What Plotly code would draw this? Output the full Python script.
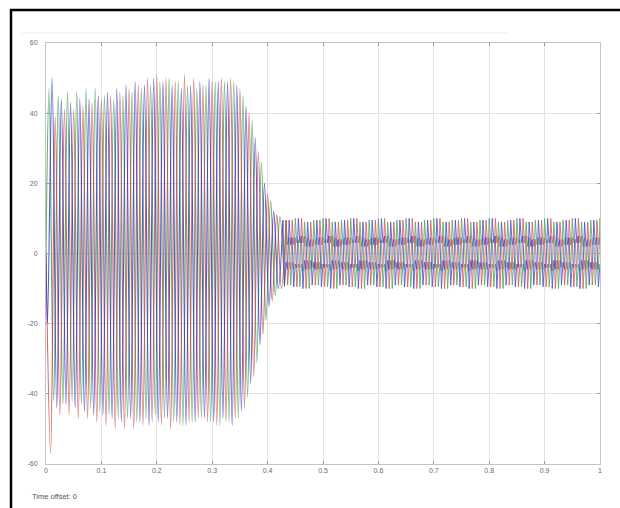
import plotly.graph_objects as go

# ---------------- data ----------------
freq_hz = 60.0                      # supply frequency (same-colour peaks ~0.0167 s apart)
x_ticks = [0, 0.1, 0.2, 0.3, 0.4, 0.5, 0.6, 0.7, 0.8, 0.9, 1]
x_tick_labels = ["0", "0.1", "0.2", "0.3", "0.4", "0.5", "0.6", "0.7", "0.8", "0.9", "1"]
y_ticks = [-60, -40, -20, 0, 20, 40, 60]
y_tick_labels = ["-60", "-40", "-20", "0", "20", "40", "60"]

phase_names = ["green", "red", "blue"]
# time of the first extremum of each phase
first_ext_t = {"green": 0.0055, "red": 0.0083, "blue": 0.0027}
start_value = {"green": 0.0, "red": 0.0, "blue": 0.0}

# successive extrema (alternating, half a period apart) of the starting transient
green_ext = [47, -42, 45, -43, 46, -42, 46, -43, 47, -44, 47, -45, 45, -46, 44, -47,
             45, -47, 46, -48, 47, -47, 48, -46, 49, -47, 50, -48, 49, -49, 48, -48,
             47, -47, 48, -48, 49, -49, 49, -48, 49, -47, 45, -41, 38, -31, 26, -19,
             15, -12, 10.5, -9.5]
red_ext = [-57, 39, -46, 41, -46, 41, -47, 42, -47, 43, -48, 44, -49, 45, -50, 46,
           -50, 47, -50, 48, -49, 50, -48, 51, -49, 50, -50, 49, -49, 51, -48, 50,
           -47, 48, -48, 49, -49, 50, -48, 50, -47, 47, -44, 40, -35, 29, -23, 17,
           -13.5, 11, -10, 9.5]
blue_ext = [-20, 50, -44, 44, -43, 43, -44, 44, -45, 44, -46, 45, -46, 46, -47, 47,
            -48, 48, -47, 49, -48, 48, -49, 50, -48, 49, -47, 48, -48, 47, -49, 48,
            -48, 49, -47, 50, -48, 49, -47, 49, -49, 48, -45, 42, -37, 33, -26, 20,
            -15, 12, -10, 9.5]

# steady state: three cycles of extrema, a sixth of a period apart
# (spikes to about +/-9.5 with turning points between about 2 and 5)
steady_from_peak = [9.5, 2.5, 4.5, -9.0, -2.5, -4.5,
                    10.0, 3.0, 4.0, -9.5, -3.0, -5.0,
                    9.0, 2.0, 4.5, -10.0, -2.0, -4.0]
steady_from_trough = [-9.0, -2.5, -4.5, 9.5, 2.5, 4.5,
                      -9.5, -3.0, -4.0, 10.0, 3.0, 5.0,
                      -10.0, -2.0, -4.5, 9.0, 2.0, 4.0]

line_colors = {"green": "#3f9f4f", "red": "#d24a4a", "blue": "#3c3cc8"}

# ---------------- build traces ----------------
half_period = 0.5 / freq_hz
steady_step = 1.0 / (6.0 * freq_hz)
series_ext = {"green": green_ext, "red": red_ext, "blue": blue_ext}

fig = go.Figure()
for name in phase_names:
    ext = series_ext[name]
    ts = [0.0] + [first_ext_t[name] + i * half_period for i in range(len(ext))]
    vs = [start_value[name]] + list(ext)
    fig.add_trace(go.Scatter(
        x=ts, y=vs, mode="lines",
        line=dict(color=line_colors[name], width=1.1, shape="spline", smoothing=1.0),
        opacity=0.85, showlegend=False, hoverinfo="skip"))

    pattern = steady_from_trough if ext[-1] > 0 else steady_from_peak
    st = [ts[-1]]
    sv = [vs[-1]]
    k = 0
    t = ts[-1] + steady_step
    while t <= 1.0 + steady_step:
        st.append(t)
        sv.append(pattern[k % len(pattern)])
        k += 1
        t = ts[-1] + (k + 1) * steady_step
    fig.add_trace(go.Scatter(
        x=st, y=sv, mode="lines",
        line=dict(color=line_colors[name], width=0.9),
        opacity=0.85, showlegend=False, hoverinfo="skip"))

# ---------------- layout ----------------
W, H = 620, 508
L, R, T, B = 46, 20, 43, 44
pw, ph = W - L - R, H - T - B

def px_x(px):
    return (px - L) / pw

def px_y(py):
    return (H - B - py) / ph

axis_font = dict(family="Liberation Sans, Arial, sans-serif", size=7, color="#6a6a6a")

fig.update_layout(
    width=W, height=H,
    margin=dict(l=L, r=R, t=T, b=B),
    paper_bgcolor="white", plot_bgcolor="white",
    xaxis=dict(range=[0, 1], tickvals=x_ticks, ticktext=x_tick_labels,
               showgrid=True, gridcolor="#e3e3e3", gridwidth=1,
               showline=True, linecolor="#c4c4c4", linewidth=1, mirror="allticks",
               ticks="inside", ticklen=3, tickcolor="#9a9a9a",
               tickfont=axis_font, zeroline=False, fixedrange=True),
    yaxis=dict(range=[-60, 60], tickvals=y_ticks, ticktext=y_tick_labels,
               showgrid=True, gridcolor="#e3e3e3", gridwidth=1,
               showline=True, linecolor="#c4c4c4", linewidth=1, mirror="allticks",
               ticks="inside", ticklen=3, tickcolor="#9a9a9a",
               tickfont=axis_font, zeroline=False, fixedrange=True,
               ticklabelstandoff=6),
    shapes=[
        dict(type="line", xref="paper", yref="paper",
             x0=px_x(10), x1=px_x(620), y0=px_y(10), y1=px_y(10),
             line=dict(color="black", width=2.5)),
        dict(type="line", xref="paper", yref="paper",
             x0=px_x(11), x1=px_x(11), y0=px_y(9), y1=px_y(508),
             line=dict(color="black", width=2.5)),
        dict(type="line", xref="paper", yref="paper",
             x0=px_x(22), x1=px_x(508), y0=px_y(33), y1=px_y(33),
             line=dict(color="#ececec", width=1)),
    ],
    annotations=[
        dict(text="Time offset: 0", xref="paper", yref="paper",
             x=px_x(30), y=px_y(496), xanchor="left", yanchor="middle",
             showarrow=False,
             font=dict(family="Liberation Sans, Arial, sans-serif", size=7.5, color="#555555")),
    ],
)

fig.write_html("out.html", config={"displayModeBar": False},
               post_script="document.body.style.margin='0px';document.body.style.overflow='hidden';")
